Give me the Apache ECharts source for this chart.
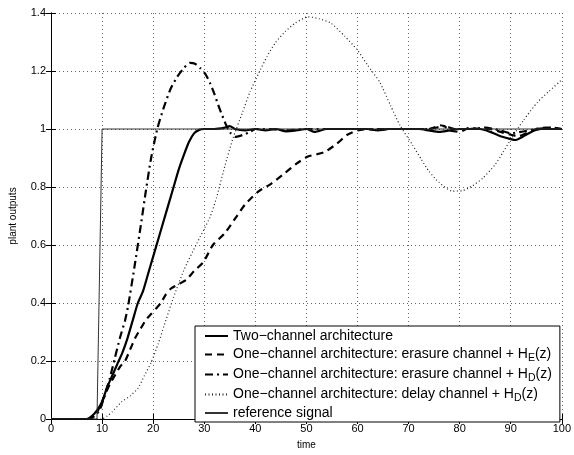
<!DOCTYPE html>
<html lang="en">
<head>
    <meta charset="UTF-8">
    <title>plant outputs</title>
    <script src="https://cdn.jsdelivr.net/npm/echarts@6/dist/echarts.min.js"></script>
    <style type="text/css">
        body {
            margin: 0;
            padding: 0;
            background-color: #fff;
        }

        #chart {
            width: 574px;
            height: 455px;
        }
    </style>
</head>
<body>
<div id="chart"></div>

<script>
    // x ticks and y ticks
    var xTicks = [0, 10, 20, 30, 40, 50, 60, 70, 80, 90, 100];
    var yTicks = [0, 0.2, 0.4, 0.6, 0.8, 1, 1.2, 1.4];

    var seriesNames = [
        "Two\u2212channel architecture",
        "One\u2212channel architecture: erasure channel + H_E(z)",
        "One\u2212channel architecture: erasure channel + H_D(z)",
        "One\u2212channel architecture: delay channel + H_D(z)",
        "reference signal"
    ];

    // [time, output] pairs
    var twoChannel = [
        [0, 0], [7, 0], [8, 0.01], [9, 0.03], [10, 0.06], [11, 0.11], [12, 0.15], [13, 0.19],
        [14, 0.23], [15, 0.28], [16, 0.34], [17, 0.4], [18, 0.44], [19, 0.5], [20, 0.56],
        [21, 0.62], [22, 0.68], [23, 0.74], [24, 0.8], [25, 0.86], [26, 0.91], [27, 0.955],
        [28, 0.985], [29, 0.997], [30, 1.0], [32, 1.0], [34, 1.005], [35, 1.01], [36, 1.0],
        [38, 0.995], [40, 1.0], [42, 0.995], [44, 1.0], [46, 0.992], [48, 0.995], [50, 1.0],
        [51.6, 0.99], [54, 1.0], [56, 1.0], [58, 1.0], [60, 1.0], [62, 1.0], [64, 0.995],
        [66, 1.0], [68, 1.0], [70, 1.0], [72, 1.0], [74, 0.995], [76, 0.99], [78, 0.995],
        [80, 1.0], [82, 1.0], [84, 1.0], [86, 0.99], [88, 0.975], [90, 0.965], [91, 0.962],
        [92, 0.97], [94, 0.99], [96, 1.0], [98, 1.0], [100, 1.0]
    ];

    var erasureHE = [
        [0, 0], [7.5, 0], [8.5, 0.01], [9.5, 0.04], [10.5, 0.08], [11.5, 0.12], [12.5, 0.15],
        [13.5, 0.18], [14.5, 0.2], [15.5, 0.24], [16.5, 0.28], [17.5, 0.31], [18.5, 0.34],
        [19.5, 0.36], [20.5, 0.38], [21.5, 0.4], [22.5, 0.43], [23.5, 0.45], [25, 0.465],
        [26.5, 0.48], [28, 0.51], [29.8, 0.54], [31.7, 0.6], [34, 0.64], [36.2, 0.695],
        [38, 0.74], [40.7, 0.786], [43, 0.81], [45.8, 0.848], [48, 0.88], [50.3, 0.905],
        [53.5, 0.92], [56, 0.95], [58, 0.98], [60, 0.995], [62, 1.0], [64, 0.995], [66, 1.0],
        [68, 1.0], [70, 1.0], [72, 1.0], [74, 1.0], [75, 1.005], [76, 1.013], [77, 1.01],
        [78, 0.995], [80, 0.99], [82, 1.005], [84, 1.0], [86, 1.0], [88, 0.99], [90, 0.98],
        [91.5, 0.975], [93, 0.985], [95, 1.0], [97, 1.005], [100, 1.0]
    ];

    var erasureHD = [
        [0, 0], [7.5, 0], [8.5, 0.01], [9.5, 0.03], [10.5, 0.08], [11.5, 0.14], [12.5, 0.21],
        [13.5, 0.28], [14.5, 0.34], [15.1, 0.39], [16.3, 0.52], [17.6, 0.67], [18.6, 0.79],
        [19.6, 0.9], [20.8, 1.0], [22, 1.07], [23.4, 1.138], [24.7, 1.18], [26, 1.21],
        [27.2, 1.228], [28.2, 1.225], [29.2, 1.21], [30.2, 1.19], [31.1, 1.16], [32, 1.12],
        [33, 1.07], [34.3, 1.013], [35.2, 0.985], [36.2, 0.973], [37.5, 0.979], [39, 0.99],
        [40, 1.0], [43, 1.0], [46, 0.995], [50, 1.0], [55, 1.0], [60, 1.0], [65, 1.0],
        [70, 1.0], [74, 1.0], [77, 1.01], [79, 1.0], [82, 1.0], [85, 1.005], [88, 0.995],
        [90, 0.985], [92, 0.99], [95, 1.0], [98, 1.005], [100, 1.0]
    ];

    var delayHD = [
        [0, 0], [10, 0], [11, 0.01], [12, 0.025], [13.8, 0.059], [15.5, 0.08], [17, 0.105],
        [18.3, 0.15], [19.6, 0.195], [21, 0.26], [22.1, 0.32], [24, 0.42], [26, 0.513],
        [28.5, 0.604], [31.1, 0.695], [32.4, 0.763], [34, 0.87], [35.6, 0.967], [37.5, 1.058],
        [39, 1.13], [40.7, 1.194], [42.3, 1.25], [43.9, 1.297], [45.8, 1.335], [47.8, 1.365],
        [50.3, 1.387], [52.5, 1.38], [54.8, 1.365], [57.5, 1.32], [59.9, 1.274], [62, 1.22],
        [64.4, 1.16], [66.5, 1.08], [68.3, 1.013], [70.8, 0.944], [72.5, 0.895], [74, 0.854],
        [76, 0.815], [78.5, 0.786], [80.5, 0.787], [82.4, 0.803], [84.5, 0.83], [86.9, 0.876],
        [88.5, 0.92], [90.1, 0.967], [92.5, 1.03], [95.2, 1.092], [97.5, 1.13], [100, 1.17]
    ];

    var reference = [[0, 0], [9, 0], [10, 1], [100, 1]];

    var font = "'Liberation Sans', Arial, sans-serif";

    function legendText(name) {
        // H_E(z) -> H with a subscript
        return name.replace(/H_([A-Z])/, "H{sub|$1}");
    }

    var chart = echarts.init(document.getElementById("chart"));

    var tickStyle = {show: true, inside: true, length: 5, lineStyle: {color: "#000"}};

    chart.setOption({
        animation: false,
        backgroundColor: "#fff",
        grid: {left: 45, right: 8, top: 13, bottom: 31},
        legend: {
            orient: "vertical",
            left: 195,
            top: 326,
            padding: [2, 8, 1, 9],
            itemGap: 1,
            itemWidth: 23,
            itemHeight: 12,
            borderColor: "#000",
            borderWidth: 1,
            backgroundColor: "#fff",
            borderRadius: 0,
            itemStyle: {opacity: 0},
            data: seriesNames,
            formatter: legendText,
            textStyle: {
                fontFamily: font,
                fontSize: 14,
                lineHeight: 16,
                color: "#000",
                rich: {
                    sub: {fontFamily: font, fontSize: 10.5, lineHeight: 8, padding: [8, 0, 0, 0], color: "#000"}
                }
            }
        },
        xAxis: [{
            type: "value",
            min: xTicks[0],
            max: xTicks[xTicks.length - 1],
            interval: 10,
            name: "time",
            nameLocation: "middle",
            nameGap: 21,
            nameTextStyle: {fontFamily: font, fontSize: 10, color: "#000"},
            axisLine: {lineStyle: {color: "#000", width: 1}},
            axisTick: tickStyle,
            axisLabel: {fontFamily: font, fontSize: 11, color: "#000", margin: 4},
            splitLine: {show: true, lineStyle: {color: "#666", type: [1, 3]}}
        }, {
            type: "value",
            position: "top",
            min: 0,
            max: 100,
            interval: 10,
            axisLine: {lineStyle: {color: "#000"}},
            axisTick: tickStyle,
            axisLabel: {show: false},
            splitLine: {show: false}
        }],
        yAxis: [{
            type: "value",
            min: yTicks[0],
            max: yTicks[yTicks.length - 1],
            interval: 0.2,
            name: "plant outputs",
            nameLocation: "middle",
            nameGap: 33,
            nameTextStyle: {fontFamily: font, fontSize: 10, color: "#000"},
            axisLine: {show: true, lineStyle: {color: "#000", width: 1}},
            axisTick: tickStyle,
            axisLabel: {fontFamily: font, fontSize: 11, color: "#000", margin: 5},
            splitLine: {show: true, lineStyle: {color: "#666", type: [1, 3]}}
        }, {
            type: "value",
            position: "right",
            min: 0,
            max: 1.4,
            interval: 0.2,
            axisLine: {show: true, lineStyle: {color: "#000"}},
            axisTick: tickStyle,
            axisLabel: {show: false},
            splitLine: {show: false}
        }],
        series: [
            {
                name: seriesNames[0],
                type: "line",
                data: twoChannel,
                symbol: "none",
                smooth: 0.2,
                lineStyle: {color: "#000", width: 2.2, type: "solid"},
                itemStyle: {color: "#000"}
            },
            {
                name: seriesNames[1],
                type: "line",
                data: erasureHE,
                symbol: "none",
                smooth: 0.2,
                lineStyle: {color: "#000", width: 2.2, type: [7, 5]},
                itemStyle: {color: "#000"}
            },
            {
                name: seriesNames[2],
                type: "line",
                data: erasureHD,
                symbol: "none",
                smooth: 0.2,
                lineStyle: {color: "#000", width: 2.2, type: [8, 4, 2, 4]},
                itemStyle: {color: "#000"}
            },
            {
                name: seriesNames[3],
                type: "line",
                data: delayHD,
                symbol: "none",
                smooth: 0.2,
                lineStyle: {color: "#222", width: 1.2, type: [1, 2.5]},
                itemStyle: {color: "#222"}
            },
            {
                name: seriesNames[4],
                type: "line",
                data: reference,
                symbol: "none",
                lineStyle: {color: "#333", width: 1, type: "solid"},
                itemStyle: {color: "#333"}
            }
        ]
    });
</script>
</body>
</html>
